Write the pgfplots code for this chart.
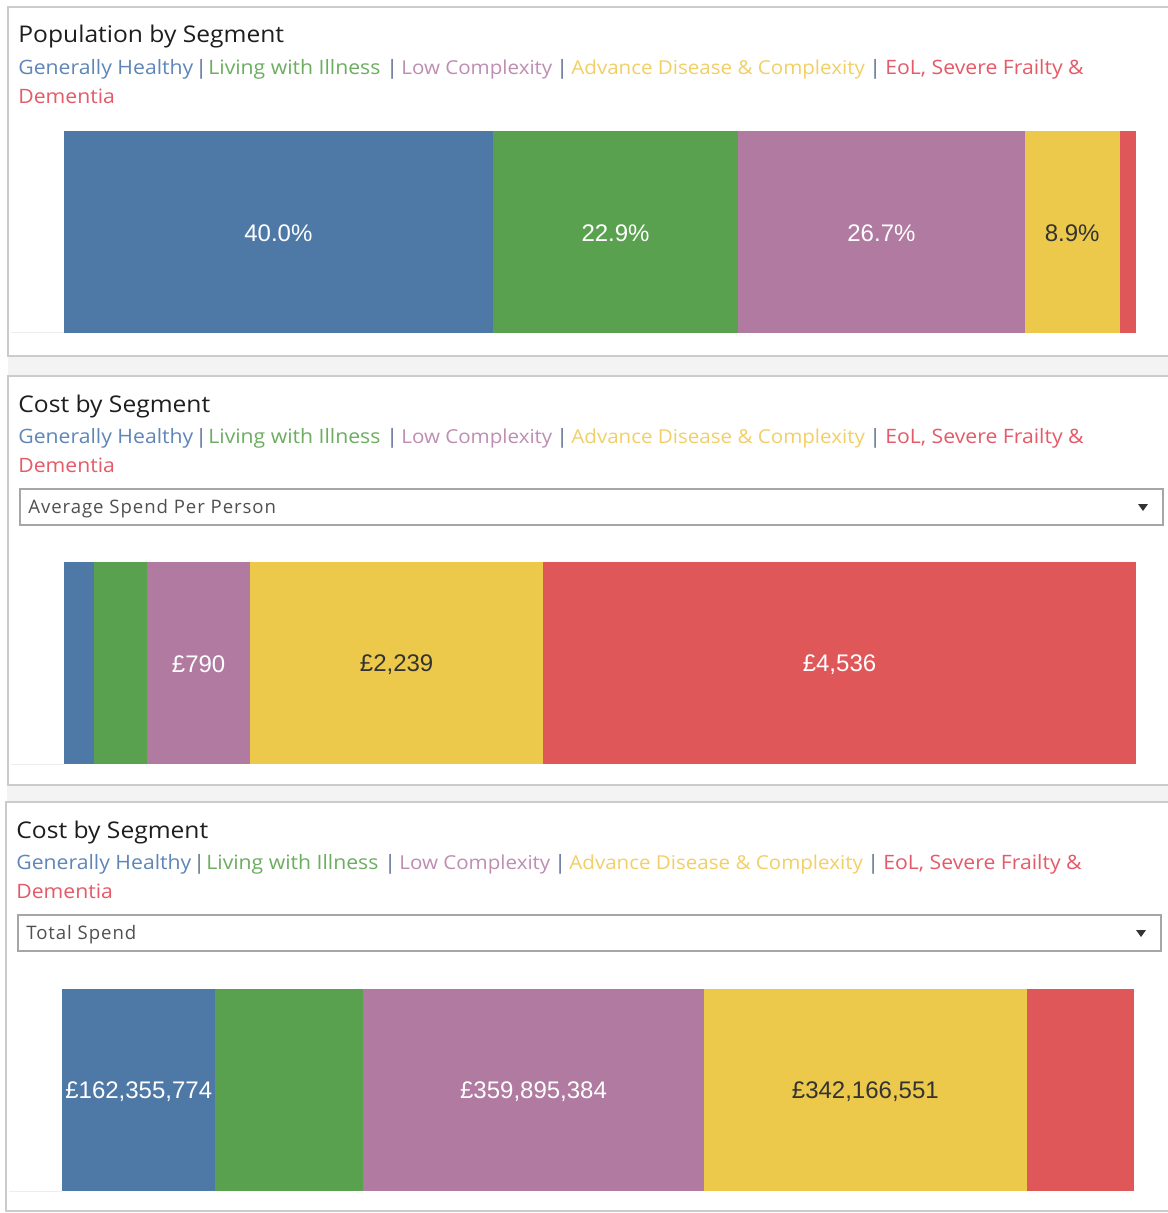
\documentclass[border=0pt]{standalone}
\usepackage{pgfplots}
\pgfplotsset{compat=1.18}
\usepackage{fontspec}
\setmainfont[FakeStretch=1.07]{Open Sans}
\newfontfamily\ddf[LetterSpace=5]{Open Sans}
\newfontfamily\lab{Liberation Sans}
\definecolor{cblue}{HTML}{4E79A7}
\definecolor{cgreen}{HTML}{59A14F}
\definecolor{cpurple}{HTML}{B07AA1}
\definecolor{cyellow}{HTML}{ECC94B}
\definecolor{cred}{HTML}{E05759}
\definecolor{tblue}{HTML}{5F86B8}
\definecolor{tgreen}{HTML}{6CAD60}
\definecolor{tpurple}{HTML}{BE8DB2}
\definecolor{tyellow}{HTML}{F2CF66}
\definecolor{tred}{HTML}{E55A68}
\definecolor{pipecol}{HTML}{5A6C90}
\definecolor{bordercol}{HTML}{CBCBCB}
\definecolor{gapcol}{HTML}{F3F3F3}
\definecolor{titlecol}{HTML}{1E1E1E}
\definecolor{ddcol}{HTML}{505050}
\newcommand\labfont{\lab\fontsize{12}{14}\selectfont}
\newcommand\titlefont{\fontsize{11.5}{13}\selectfont}
\newcommand\legfont{\fontsize{9.9}{11}\selectfont}
\newcommand\legfontb{\fontsize{9.6}{11}\selectfont}
\newcommand\ddfont{\ddf\fontsize{9.3}{11}\selectfont}
\pgfplotsset{
  segbar/.style={
    anchor=south west,
    width=536pt, height=101pt, scale only axis,
    xbar stacked, bar width=1, ymin=-0.5, ymax=0.5, xmin=0,
    hide axis, clip=false, enlargelimits=false},
  seglabel/.style={point meta=explicit symbolic, nodes near coords,
    every node near coord/.style={anchor=center, inner sep=0pt, yshift=-0.8pt,
      text=#1, font=\labfont}}
}
\newcommand\legendrows{%
  \node[anchor=base west, inner sep=0, text=tblue, font=\legfont] at (18,75) {Generally Healthy};
  \node[anchor=base west, inner sep=0, text=pipecol, font=\legfont] at (195,75) {|};
  \node[anchor=base west, inner sep=0, text=tgreen, font=\legfont] at (208,75) {Living with Illness};
  \node[anchor=base west, inner sep=0, text=pipecol, font=\legfont] at (386,75) {|};
  \node[anchor=base west, inner sep=0, text=tpurple, font=\legfontb] at (401,75) {Low Complexity};
  \node[anchor=base west, inner sep=0, text=pipecol, font=\legfont] at (556,75) {|};
  \node[anchor=base west, inner sep=0, text=tyellow, font=\legfontb] at (571,75) {Advance Disease \& Complexity};
  \node[anchor=base west, inner sep=0, text=pipecol, font=\legfont] at (869,75) {|};
  \node[anchor=base west, inner sep=0, text=tred, font=\legfont] at (885,75) {EoL, Severe Frailty \&};
  \node[anchor=base west, inner sep=0, text=tred, font=\legfont] at (18,104) {Dementia};
}
\begin{document}
\begin{tikzpicture}[x=0.5pt,y=-0.5pt]
\fill[white] (0,0) rectangle (1167,1213);
\path[use as bounding box] (0,0) rectangle (1167,1213);
% gaps between panels
\fill[gapcol] (8,356) rectangle (1180,376);
\fill[gapcol] (7,785) rectangle (1180,802);
% panel borders
\draw[bordercol, line width=1pt] (1180,7) -- (8,7) -- (8,356) -- (1180,356);
\draw[bordercol, line width=1pt] (1180,376) -- (8,376) -- (8,785) -- (1180,785);
\draw[bordercol, line width=1pt] (1180,802) -- (6,802) -- (6,1211) -- (1180,1211);
% faint axis lines
\draw[black!7, line width=0.5pt] (11,333) -- (64,333);
\draw[black!7, line width=0.5pt] (11,764) -- (64,764);
\draw[black!7, line width=0.5pt] (9,1191) -- (62,1191);

% ---------- Panel 1 ----------
\node[anchor=base west, inner sep=0, text=titlecol, font=\titlefont] at (18,43) {Population by Segment};
\legendrows
\begin{axis}[segbar, at={(32pt,-166.5pt)}, xmax=100]
\addplot[fill=cblue, draw=none, seglabel=white] table[x=v, y=y, meta=lab] {
v y lab
40.0 0 {40.0\%}
};
\addplot[fill=cgreen, draw=none, seglabel=white] table[x=v, y=y, meta=lab] {
v y lab
22.9 0 {22.9\%}
};
\addplot[fill=cpurple, draw=none, seglabel=white] table[x=v, y=y, meta=lab] {
v y lab
26.7 0 {26.7\%}
};
\addplot[fill=cyellow, draw=none, seglabel={black!80}] table[x=v, y=y, meta=lab] {
v y lab
8.9 0 {8.9\%}
};
\addplot[fill=cred, draw=none] table[x=v, y=y] {
v y
1.5 0
};
\end{axis}

% ---------- Panel 2 ----------
\node[anchor=base west, inner sep=0, text=titlecol, font=\titlefont] at (18,412) {Cost by Segment};
\begin{scope}[shift={(0,368)}]\legendrows\end{scope}
\draw[black!35, line width=0.8pt] (20,489) rectangle (1163,525);
\node[anchor=base west, inner sep=0, text=ddcol, font=\ddfont] at (28,513) {Average Spend Per Person};
\fill[black!80] (1138,504) -- (1148,504) -- (1143,511) -- cycle;
\begin{axis}[segbar, at={(32pt,-382pt)}, xmax=8200]
\addplot[fill=cblue, draw=none] table[x=v, y=y] {
v y
230 0
};
\addplot[fill=cgreen, draw=none] table[x=v, y=y] {
v y
405 0
};
\addplot[fill=cpurple, draw=none, seglabel=white] table[x=v, y=y, meta=lab] {
v y lab
790 0 {£790}
};
\addplot[fill=cyellow, draw=none, seglabel={black!80}] table[x=v, y=y, meta=lab] {
v y lab
2239 0 {£2,239}
};
\addplot[fill=cred, draw=none, seglabel=white] table[x=v, y=y, meta=lab] {
v y lab
4536 0 {£4,536}
};
\end{axis}

% ---------- Panel 3 ----------
\node[anchor=base west, inner sep=0, text=titlecol, font=\titlefont] at (16,838) {Cost by Segment};
\begin{scope}[shift={(-2,794)}]\legendrows\end{scope}
\draw[black!35, line width=0.8pt] (18,915) rectangle (1161,951);
\node[anchor=base west, inner sep=0, text=ddcol, font=\ddfont] at (26,939) {Total Spend};
\fill[black!80] (1136,930) -- (1146,930) -- (1141,937) -- cycle;
% values in millions of pounds
\begin{axis}[segbar, at={(31pt,-595.5pt)}, xmax=1134.2]
\addplot[fill=cblue, draw=none, seglabel=white] table[x=v, y=y, meta=lab] {
v y lab
162.355774 0 {£162,355,774}
};
\addplot[fill=cgreen, draw=none] table[x=v, y=y] {
v y
156.6 0
};
\addplot[fill=cpurple, draw=none, seglabel=white] table[x=v, y=y, meta=lab] {
v y lab
359.895384 0 {£359,895,384}
};
\addplot[fill=cyellow, draw=none, seglabel={black!80}] table[x=v, y=y, meta=lab] {
v y lab
342.166551 0 {£342,166,551}
};
\addplot[fill=cred, draw=none] table[x=v, y=y] {
v y
113.2 0
};
\end{axis}
\end{tikzpicture}
\end{document}
